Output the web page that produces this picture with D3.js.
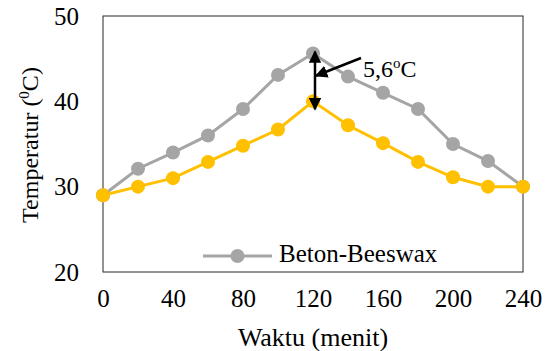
<!DOCTYPE html>
<html>
<head>
<meta charset="utf-8">
<script src="https://cdn.jsdelivr.net/npm/d3@7"></script>
<style>
  body { margin: 0; background: #fff; }
  svg { display: block; font-family: "Liberation Serif", "Times New Roman", serif; }
</style>
</head>
<body>
<svg id="chart" width="550" height="351"></svg>
<script>
const waktu = [0, 20, 40, 60, 80, 100, 120, 140, 160, 180, 200, 220, 240];
const betonBeeswax = [29.0, 32.1, 34.0, 36.0, 39.1, 43.1, 45.6, 42.9, 41.0, 39.1, 35.0, 33.0, 30.0];
const betonLain = [29.0, 30.0, 31.0, 32.9, 34.8, 36.7, 40.0, 37.2, 35.1, 32.9, 31.1, 30.0, 30.0];
const xTicks = [0, 40, 80, 120, 160, 200, 240];
const yTicks = [20, 30, 40, 50];

const grey = "#a5a5a5", gold = "#ffc000";
const svg = d3.select("#chart");
const m = { left: 103, right: 27, top: 16, bottom: 79 };
const W = 550, H = 351;
const fs = 25;

const x = d3.scaleLinear().domain([0, 240]).range([m.left, W - m.right]);
const y = d3.scaleLinear().domain([20, 50]).range([H - m.bottom, m.top]);

// frame
svg.append("rect")
    .attr("x", x(0)).attr("y", y(50))
    .attr("width", x(240) - x(0)).attr("height", y(20) - y(50))
    .attr("fill", "none").attr("stroke", "#262626").attr("stroke-width", 1);

// axes (labels only)
const xAxis = svg.append("g")
    .attr("transform", `translate(0,${y(20)})`)
    .call(d3.axisBottom(x).tickValues(xTicks).tickSize(0).tickPadding(17));
const yAxis = svg.append("g")
    .attr("transform", `translate(${x(0)},0)`)
    .call(d3.axisLeft(y).tickValues(yTicks).tickSize(0).tickPadding(24));
[xAxis, yAxis].forEach(g => {
  g.select(".domain").remove();
  g.selectAll("text").attr("font-size", fs).attr("fill", "#000")
    .attr("font-family", "Liberation Serif, serif");
});

// series
const line = d3.line().x((d, i) => x(waktu[i])).y(d => y(d));
function series(vals, col) {
  svg.append("path").datum(vals)
      .attr("d", line).attr("fill", "none")
      .attr("stroke", col).attr("stroke-width", 3);
  svg.append("g").selectAll("circle").data(vals).join("circle")
      .attr("cx", (d, i) => x(waktu[i])).attr("cy", d => y(d))
      .attr("r", 7).attr("fill", col);
}
series(betonBeeswax, grey);
series(betonLain, gold);

// legend
const lg = svg.append("g").attr("transform", `translate(203,256)`);
lg.append("line").attr("x1", 0).attr("x2", 69).attr("stroke", grey).attr("stroke-width", 3);
lg.append("circle").attr("cx", 34.5).attr("r", 7).attr("fill", grey);
lg.append("text").attr("x", 76).attr("y", 6).attr("font-size", fs).text("Beton-Beeswax");

// annotation
const defs = svg.append("defs");
defs.append("marker").attr("id", "ah")
    .attr("viewBox", "0 0 10 10").attr("refX", 9).attr("refY", 5)
    .attr("markerWidth", 5).attr("markerHeight", 5)
    .attr("orient", "auto-start-reverse").attr("markerUnits", "strokeWidth")
  .append("path").attr("d", "M0,0 L10,5 L0,10 z").attr("fill", "#000");

const px = x(120) + 2;
svg.append("line")
    .attr("x1", px).attr("y1", y(45.6) - 2)
    .attr("x2", px).attr("y2", y(40.0) + 8)
    .attr("stroke", "#000").attr("stroke-width", 2.5)
    .attr("marker-start", "url(#ah)").attr("marker-end", "url(#ah)");
svg.append("line")
    .attr("x1", 361).attr("y1", 58)
    .attr("x2", px + 1).attr("y2", y(43))
    .attr("stroke", "#000").attr("stroke-width", 2.5)
    .attr("marker-end", "url(#ah)");

const ann = svg.append("text").attr("x", 363).attr("y", 77).attr("font-size", 24);
ann.append("tspan").text("5,6");
ann.append("tspan").attr("font-size", 15).attr("dy", -9).text("o");
ann.append("tspan").attr("dy", 9).text("C");

// axis titles
svg.append("text")
    .attr("x", x(120)).attr("y", 346)
    .attr("text-anchor", "middle").attr("font-size", 26)
    .text("Waktu (menit)");

const yt = svg.append("text")
    .attr("transform", `translate(38,${(y(50) + y(20)) / 2 + 1}) rotate(-90)`)
    .attr("text-anchor", "middle").attr("font-size", 24);
yt.append("tspan").text("Temperatur (");
yt.append("tspan").attr("font-size", 15).attr("dy", -9).text("0");
yt.append("tspan").attr("dy", 9).text("C)");
</script>
</body>
</html>
